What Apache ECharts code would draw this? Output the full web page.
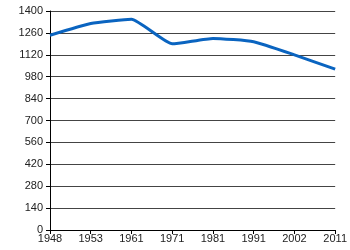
<!DOCTYPE html>
<html><head><meta charset="utf-8">
<script src="https://cdn.jsdelivr.net/npm/echarts@6/dist/echarts.min.js"></script>
<style>html,body{margin:0;padding:0;background:#fff}#c{width:350px;height:250px}</style>
</head><body><div id="c"></div>
<script>
const years = ['1948','1953','1961','1971','1981','1991','2002','2011'];
const values = [1245, 1320, 1347, 1190, 1225, 1204, 1120, 1028];
const yTicks = [0,140,280,420,560,700,840,980,1120,1260,1400];
const chart = echarts.init(document.getElementById('c'), null, {renderer:'canvas'});
chart.setOption({
  animation:false,
  grid:{left:50,right:14,top:11,bottom:20,containLabel:false},
  xAxis:{type:'category',data:years,boundaryGap:false,
    axisLine:{lineStyle:{color:'#000',width:1}},
    axisTick:{show:true,length:4,inside:false,lineStyle:{color:'#000'}},
    axisLabel:{color:'#222',fontFamily:'Liberation Sans',fontSize:11,margin:3,interval:0},
    splitLine:{show:false}},
  yAxis:{type:'value',min:yTicks[0],max:yTicks[yTicks.length-1],interval:140,
    axisLine:{show:true,lineStyle:{color:'#000',width:1}},
    axisTick:{show:true,length:4,lineStyle:{color:'#000'}},
    axisLabel:{color:'#222',fontFamily:'Liberation Sans',fontSize:11,margin:7,formatter:v=>String(v)},
    splitLine:{show:true,lineStyle:{color:'#444',width:1}}},
  series:[{type:'line',data:values,symbol:'none',smooth:0.15,
    lineStyle:{color:'#0a64c0',width:3}}]
});
</script></body></html>
